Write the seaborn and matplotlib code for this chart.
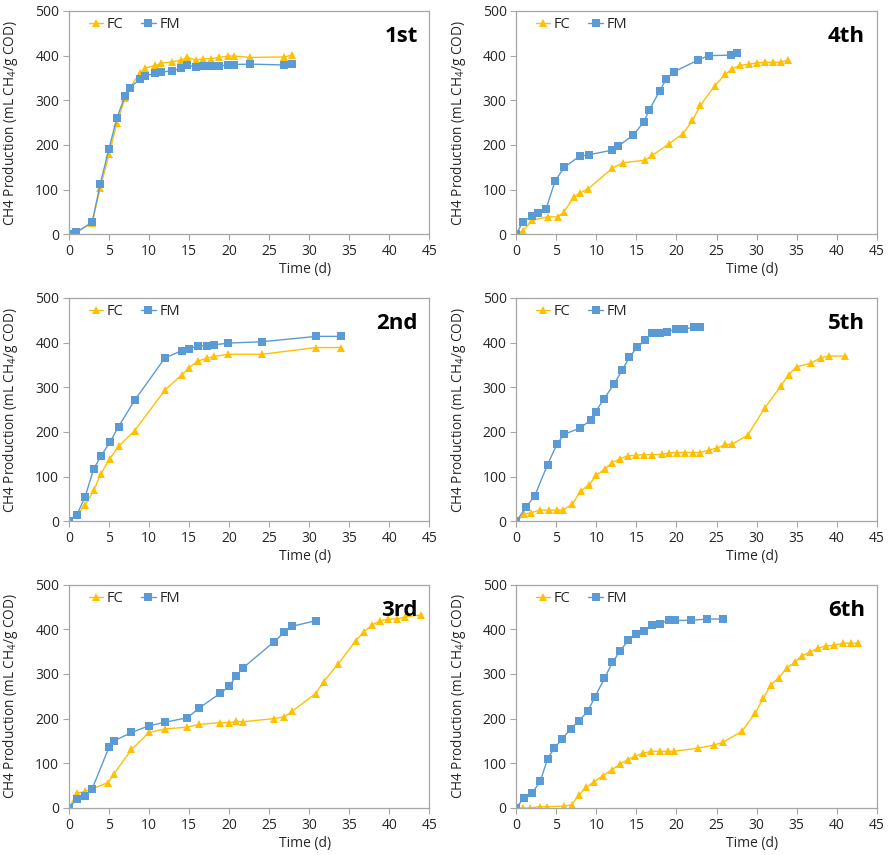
import matplotlib
matplotlib.use("Agg")
import matplotlib.pyplot as plt
import seaborn as sns
import pandas as pd

# ---------------- data ----------------
series_names = ["FC", "FM"]
panel_labels = ["1st", "2nd", "3rd", "4th", "5th", "6th"]
x_ticks = [0, 5, 10, 15, 20, 25, 30, 35, 40, 45]
y_ticks = [0, 100, 200, 300, 400, 500]

# 1st
fc1_day = [0, 0.9, 2.9, 3.9, 5.0, 6.0, 7.0, 7.6, 8.9, 9.5, 10.8, 11.5, 12.9, 14.0, 14.8, 15.9, 16.8, 17.7, 18.7, 19.9, 20.6, 22.6, 26.9, 27.8]
fc1_val = [0, 4, 26, 103, 179, 250, 304, 328, 362, 372, 378, 383, 386, 390, 396, 390, 393, 393, 396, 399, 399, 396, 397, 401]
fm1_day = [0, 0.9, 2.9, 3.9, 5.0, 6.0, 7.0, 7.6, 8.9, 9.5, 10.8, 11.5, 12.9, 14.0, 14.8, 15.9, 16.8, 17.7, 18.7, 19.9, 20.6, 22.6, 26.9, 27.8]
fm1_val = [0, 4, 27, 112, 192, 261, 310, 328, 348, 355, 360, 363, 366, 372, 378, 375, 377, 377, 376, 380, 380, 381, 379, 381]

# 2nd
fc2_day = [0, 1.0, 2.0, 3.1, 4.0, 5.1, 6.2, 8.2, 12.0, 14.1, 15.0, 16.1, 17.2, 18.1, 19.9, 24.1, 30.9, 34.0]
fc2_val = [0, 13, 36, 69, 107, 140, 168, 203, 294, 328, 344, 359, 365, 369, 374, 374, 389, 389]
fm2_day = [0, 1.0, 2.0, 3.1, 4.0, 5.1, 6.2, 8.2, 12.0, 14.1, 15.0, 16.1, 17.2, 18.1, 19.9, 24.1, 30.9, 34.0]
fm2_val = [0, 15, 54, 118, 146, 177, 212, 271, 366, 382, 386, 393, 393, 395, 399, 402, 414, 414]

# 3rd
fc3_day = [0, 1.0, 2.0, 2.9, 4.9, 5.6, 7.8, 10.0, 12.0, 14.8, 16.2, 18.9, 20.0, 20.9, 21.7, 25.6, 26.9, 27.9, 30.8, 31.8, 33.6, 35.8, 36.8, 37.9, 38.8, 39.9, 41.0, 42.0, 44.0]
fc3_val = [0, 33, 37, 43, 57, 76, 131, 169, 177, 181, 187, 191, 191, 194, 193, 200, 204, 217, 256, 283, 322, 374, 394, 410, 419, 423, 423, 428, 432]
fm3_day = [0, 1.0, 2.0, 2.9, 5.0, 5.6, 7.8, 10.0, 12.0, 14.8, 16.2, 18.9, 20.0, 20.9, 21.7, 25.6, 26.9, 27.9, 30.8]
fm3_val = [0, 21, 27, 43, 136, 150, 169, 184, 192, 202, 223, 257, 272, 296, 313, 372, 393, 407, 419]

# 4th
fc4_day = [0, 0.8, 2.0, 3.9, 5.2, 5.9, 7.2, 8.0, 9.0, 12.0, 13.3, 16.1, 17.0, 19.1, 20.8, 22.0, 23.0, 24.8, 26.1, 26.9, 27.9, 29.1, 30.1, 31.0, 32.0, 33.0, 33.9]
fc4_val = [0, 8, 31, 39, 39, 49, 84, 93, 102, 148, 160, 166, 177, 203, 225, 255, 289, 333, 358, 370, 378, 381, 384, 385, 385, 385, 390]
fm4_day = [0, 0.8, 1.9, 2.7, 3.7, 4.85, 6.0, 7.9, 9.05, 11.9, 12.7, 14.6, 15.9, 16.6, 17.9, 18.7, 19.7, 22.7, 24.0, 26.8, 27.6]
fm4_val = [0, 28, 40, 47, 56, 120, 150, 175, 178, 188, 197, 222, 251, 278, 321, 347, 364, 390, 400, 401, 406]

# 5th
fc5_day = [0, 1.0, 1.8, 2.9, 4.1, 5.1, 5.85, 7.0, 8.05, 9.1, 10.0, 11.1, 11.9, 12.9, 13.9, 14.9, 15.9, 17.0, 18.2, 19.1, 20.1, 21.1, 22.1, 23.0, 24.1, 25.1, 26.1, 26.9, 28.9, 31.0, 33.0, 34.0, 35.0, 36.8, 38.0, 39.0, 41.0]
fc5_val = [0, 16, 19, 25, 25, 25, 25, 39, 68, 82, 103, 118, 130, 140, 146, 148, 149, 149, 150, 153, 154, 154, 154, 154, 160, 164, 172, 172, 193, 253, 302, 328, 346, 354, 366, 370, 370]
fm5_day = [0, 1.2, 2.3, 3.9, 5.1, 6.0, 8.0, 9.3, 9.9, 10.9, 12.2, 13.2, 14.1, 15.1, 16.1, 16.9, 18.0, 18.8, 19.9, 21.0, 22.2, 22.9]
fm5_val = [0, 31, 57, 127, 174, 195, 209, 227, 245, 273, 307, 338, 367, 390, 405, 422, 422, 423, 431, 431, 434, 434]

# 6th
fc6_day = [0, 0.8, 1.75, 2.9, 3.8, 5.9, 6.9, 7.8, 8.75, 9.7, 10.8, 11.9, 13.0, 13.9, 14.8, 15.8, 16.8, 18.0, 18.9, 19.7, 22.7, 24.7, 25.8, 28.2, 29.85, 30.85, 31.8, 32.8, 33.8, 34.8, 35.7, 36.7, 37.7, 38.7, 39.7, 40.8, 41.8, 42.7]
fc6_val = [0, 0, 0, 3, 3, 4, 7, 29, 46, 59, 72, 85, 99, 108, 116, 122, 127, 127, 127, 127, 134, 141, 147, 172, 213, 246, 276, 292, 313, 327, 341, 349, 358, 363, 364, 369, 369, 369]
fm6_day = [0, 0.9, 2.0, 3.0, 3.9, 4.75, 5.7, 6.8, 7.8, 8.9, 9.8, 11.0, 12.0, 13.0, 13.95, 14.95, 15.9, 16.9, 17.9, 19.05, 19.8, 21.8, 23.8, 25.8]
fm6_val = [0, 22, 34, 60, 110, 134, 154, 177, 195, 216, 248, 290, 326, 352, 375, 389, 396, 410, 413, 420, 420, 420, 423, 423]

panels = {
    "1st": (fc1_day, fc1_val, fm1_day, fm1_val),
    "2nd": (fc2_day, fc2_val, fm2_day, fm2_val),
    "3rd": (fc3_day, fc3_val, fm3_day, fm3_val),
    "4th": (fc4_day, fc4_val, fm4_day, fm4_val),
    "5th": (fc5_day, fc5_val, fm5_day, fm5_val),
    "6th": (fc6_day, fc6_val, fm6_day, fm6_val),
}

# ---------------- style ----------------
sns.set_theme(style="white")
plt.rcParams["font.family"] = ["Open Sans", "DejaVu Sans"]
plt.rcParams["mathtext.fontset"] = "custom"
plt.rcParams["mathtext.rm"] = "Open Sans"
plt.rcParams["mathtext.it"] = "Open Sans"

colors = {"FC": "#FFC000", "FM": "#5B9BD5"}
markers = {"FC": "^", "FM": "s"}
spine_col = "#A6A6A6"
text_col = "#262626"

fig = plt.figure(figsize=(8.91, 8.55), dpi=100)

lefts = [0.0774, 0.5795]
bottoms = [0.7260, 0.3903, 0.0550]
w, h = 0.4044, 0.2612
layout = {"1st": (0, 0), "2nd": (0, 1), "3rd": (0, 2),
          "4th": (1, 0), "5th": (1, 1), "6th": (1, 2)}

for lab in panel_labels:
    col, row = layout[lab]
    ax = fig.add_axes([lefts[col], bottoms[row], w, h])
    fcd, fcv, fmd, fmv = panels[lab]
    df = pd.concat([
        pd.DataFrame({"day": fcd, "val": fcv, "series": "FC"}),
        pd.DataFrame({"day": fmd, "val": fmv, "series": "FM"}),
    ], ignore_index=True)
    sns.lineplot(data=df, x="day", y="val", hue="series", style="series",
                 hue_order=series_names, style_order=series_names,
                 palette=colors, markers=markers, dashes=False,
                 estimator=None, sort=False, linewidth=1.0,
                 markersize=6, markeredgewidth=0, ax=ax)
    ax.set_xlim(0, 45)
    ax.set_ylim(0, 500)
    ax.set_xticks(x_ticks)
    ax.set_yticks(y_ticks)
    ax.tick_params(axis="both", labelsize=10, colors=spine_col,
                   labelcolor=text_col, direction="out", length=4,
                   width=0.8, pad=3, left=True, bottom=True)
    for s in ax.spines.values():
        s.set_color(spine_col)
        s.set_linewidth(0.9)
    ax.set_xlabel("Time (d)", fontsize=10, color=text_col)
    ax.xaxis.set_label_coords(0.655, -0.125)
    ax.set_ylabel("CH4 Production (mL CH$_4$/g COD)", fontsize=9.8,
                  color=text_col)
    ax.yaxis.set_label_coords(-0.135, 0.5)
    handles, labels = ax.get_legend_handles_labels()
    ax.legend(handles, labels, loc="upper left", ncol=2, frameon=False,
              fontsize=10.5, handlelength=1.0, handletextpad=0.25,
              columnspacing=1.2, bbox_to_anchor=(0.03, 1.01),
              borderaxespad=0.2)
    ax.text(0.968, 0.885, lab, transform=ax.transAxes, ha="right",
            va="center", fontsize=16, fontweight="bold", color="black")

fig.savefig("out.png", dpi=100)
